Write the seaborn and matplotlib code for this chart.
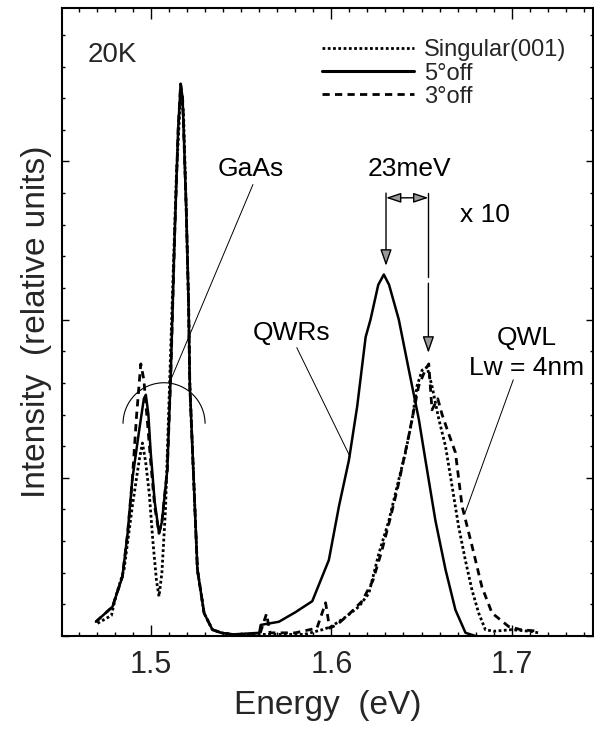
import matplotlib
matplotlib.use('Agg')
import matplotlib.pyplot as plt
import seaborn as sns
from matplotlib.patches import Arc
from matplotlib.ticker import MultipleLocator, FixedLocator, FixedFormatter, NullFormatter
from matplotlib.lines import Line2D

# ---------------- data ----------------
# 5 deg off  (solid)
e_5off = [1.4694, 1.4786, 1.4841, 1.4870, 1.4896, 1.4934, 1.4960, 1.4971, 1.4985, 1.4998,
          1.5020, 1.5044, 1.5060, 1.5090, 1.5110, 1.5130, 1.5150, 1.5164, 1.5175, 1.5195,
          1.5208, 1.5215, 1.5238, 1.5257, 1.5294, 1.5340, 1.5390, 1.5450, 1.5600, 1.5608,
          1.5709, 1.5800, 1.5894, 1.5986, 1.6042, 1.6097, 1.6143, 1.6190, 1.6217, 1.6260,
          1.6291, 1.6320, 1.6374, 1.6430, 1.6485, 1.6522, 1.6577, 1.6633, 1.6688, 1.6744,
          1.6800]
i_5off = [0.09, 0.185, 0.375, 0.65, 0.99, 1.30, 1.50, 1.525, 1.40, 1.16,
          0.85, 0.65, 0.72, 1.05, 1.68, 2.50, 3.20, 3.49, 3.40, 2.70,
          2.10, 1.58, 0.945, 0.42, 0.145, 0.04, 0.02, 0.01, 0.02, 0.07,
          0.09, 0.15, 0.22, 0.48, 0.82, 1.11, 1.45, 1.89, 2.00, 2.22,
          2.285, 2.22, 2.00, 1.68, 1.37, 1.11, 0.73, 0.42, 0.165, 0.02,
          0.0]

# Singular (001)  (dotted)
e_sing = [1.4703, 1.4780, 1.4804, 1.4850, 1.4896, 1.4934, 1.4952, 1.4970, 1.4990, 1.5010,
          1.5030, 1.5044, 1.5060, 1.5080, 1.5100, 1.5118, 1.5140, 1.5165, 1.5180, 1.5195,
          1.5208, 1.5215, 1.5238, 1.5257, 1.5294, 1.5340, 1.5390, 1.5450, 1.5850, 1.5950,
          1.6000, 1.6079, 1.6152, 1.6208, 1.6263, 1.6319, 1.6374, 1.6411, 1.6448, 1.6475,
          1.6503, 1.6531, 1.6558, 1.6596, 1.6633, 1.6669, 1.6706, 1.6743, 1.6780, 1.6817,
          1.6854, 1.6900, 1.7000, 1.7100, 1.7150]
i_sing = [0.08, 0.13, 0.25, 0.42, 0.82, 1.11, 1.22, 1.10, 0.90, 0.60,
          0.35, 0.25, 0.40, 0.80, 1.50, 2.13, 2.90, 3.45, 3.30, 2.70,
          2.10, 1.58, 0.945, 0.42, 0.145, 0.04, 0.02, 0.01, 0.01, 0.04,
          0.06, 0.12, 0.185, 0.27, 0.52, 0.73, 0.99, 1.16, 1.37, 1.58,
          1.68, 1.70, 1.58, 1.37, 1.20, 0.95, 0.69, 0.48, 0.29, 0.145,
          0.04, 0.03, 0.04, 0.03, 0.02]

# 3 deg off  (dashed)
e_3off = [1.4694, 1.4786, 1.4841, 1.4870, 1.4896, 1.4920, 1.4943, 1.4960, 1.4980, 1.4998,
          1.5020, 1.5044, 1.5060, 1.5090, 1.5110, 1.5130, 1.5150, 1.5164, 1.5175, 1.5195,
          1.5208, 1.5215, 1.5238, 1.5257, 1.5294, 1.5340, 1.5390, 1.5450, 1.5600, 1.5640,
          1.5660, 1.5800, 1.5920, 1.5968, 1.5990, 1.6030, 1.6100, 1.6170, 1.6230, 1.6280,
          1.6330, 1.6370, 1.6430, 1.6484, 1.6520, 1.6540, 1.6558, 1.6590, 1.6614, 1.6650,
          1.6688, 1.6725, 1.6780, 1.6835, 1.6891, 1.6983, 1.7050, 1.7150]
i_3off = [0.09, 0.185, 0.375, 0.65, 0.99, 1.40, 1.72, 1.62, 1.35, 1.10,
          0.82, 0.65, 0.72, 1.05, 1.68, 2.50, 3.20, 3.49, 3.40, 2.70,
          2.10, 1.58, 0.945, 0.42, 0.145, 0.04, 0.02, 0.01, 0.0, 0.14,
          0.02, 0.02, 0.05, 0.21, 0.05, 0.07, 0.14, 0.22, 0.35, 0.54,
          0.76, 0.95, 1.27, 1.58, 1.68, 1.72, 1.43, 1.50, 1.40, 1.28,
          1.16, 0.82, 0.57, 0.31, 0.145, 0.06, 0.04, 0.03]

labels = ['Singular(001)', '5°off', '3°off']
x_ticks = [1.5, 1.6, 1.7]
x_ticklabels = ['1.5', '1.6', '1.7']

# ---------------- figure ----------------
sns.set_style('ticks')
plt.rcParams['font.family'] = ['Liberation Sans', 'DejaVu Sans']

fig = plt.figure(figsize=(5.94, 7.35), dpi=100)
ax = fig.add_axes([62/594, 1-636/735, (593-62)/594, (636-8)/735])

ls_sing = (0, (1.0, 0.9))
ls_3off = (0, (2.6, 1.9))

sns.lineplot(x=e_5off, y=i_5off, ax=ax, color='k', lw=1.8, sort=False, estimator=None, legend=False)
sns.lineplot(x=e_sing, y=i_sing, ax=ax, color='k', lw=2.0, linestyle=ls_sing, sort=False, estimator=None, legend=False)
sns.lineplot(x=e_3off, y=i_3off, ax=ax, color='k', lw=2.0, linestyle=ls_3off, sort=False, estimator=None, legend=False)

ax.set_xlim(1.4506, 1.7451)
ax.set_ylim(0, 3.97)

ax.xaxis.set_major_locator(FixedLocator(x_ticks))
ax.xaxis.set_major_formatter(FixedFormatter(x_ticklabels))
ax.xaxis.set_minor_locator(MultipleLocator(0.01))
ax.yaxis.set_major_locator(MultipleLocator(1.0))
ax.yaxis.set_minor_locator(MultipleLocator(0.2))
ax.yaxis.set_major_formatter(NullFormatter())

ax.tick_params(which='both', direction='in', top=True, right=True, width=1.0, color='k')
ax.tick_params(axis='x', which='major', length=8, labelsize=22, pad=10)
ax.tick_params(axis='x', which='minor', length=3)
ax.tick_params(axis='y', which='major', length=5)
ax.tick_params(axis='y', which='minor', length=2.5)
for s in ax.spines.values():
    s.set_linewidth(1.5)
    s.set_color('k')

ax.set_xlabel('Energy  (eV)', fontsize=24, labelpad=7)
ax.set_ylabel('Intensity  (relative units)', fontsize=24, labelpad=4)

# legend
handles = [Line2D([], [], color='k', lw=2.0, linestyle=ls_sing),
           Line2D([], [], color='k', lw=2.2),
           Line2D([], [], color='k', lw=2.0, linestyle=ls_3off)]
ax.legend(handles, labels, loc='upper left', bbox_to_anchor=(0.49, 0.95), frameon=False,
          fontsize=17, handlelength=3.9, handletextpad=0.4, labelspacing=0.05,
          borderpad=0, borderaxespad=0)

# texts
tk = dict(fontsize=19, color='k')
ax.text(1.4650, 3.627, '20K', ha='left', va='baseline', fontsize=20)
ax.text(1.5371, 2.905, 'GaAs', ha='left', va='baseline', **tk)
ax.text(1.6203, 2.907, '23meV', ha='left', va='baseline', **tk)
ax.text(1.6713, 2.62, 'x 10', ha='left', va='baseline', **tk)
ax.text(1.5565, 1.873, 'QWRs', ha='left', va='baseline', **tk)
ax.text(1.7085, 1.842, 'QWL', ha='center', va='baseline', **tk)
ax.text(1.7085, 1.652, 'Lw = 4nm', ha='center', va='baseline', **tk)

# leader lines
ax.plot([1.5565, 1.5105], [2.854, 1.608], color='k', lw=0.7)
ax.plot([1.5808, 1.6103], [1.823, 1.135], color='k', lw=0.7)
ax.plot([1.7009, 1.6741], [1.62, 0.777], color='k', lw=0.7)
ax.add_patch(Arc((1.5072, 1.342), 0.0455, 0.518, theta1=0, theta2=180, color='k', lw=0.8))

# arrows
ap = dict(arrowstyle='-|>,head_length=1.0,head_width=0.35', fc='#9a9a9a', ec='k', lw=1.0,
          shrinkA=0, shrinkB=0)
ax.annotate('', xy=(1.6303, 2.34), xytext=(1.6303, 2.80), arrowprops=ap)
ax.plot([1.6538, 1.6538], [2.80, 2.27], color='k', lw=1.0)
ax.annotate('', xy=(1.6538, 1.79), xytext=(1.6538, 2.23), arrowprops=ap)
ap2 = dict(arrowstyle='<|-|>,head_length=0.9,head_width=0.3', fc='#9a9a9a', ec='k', lw=1.0,
           shrinkA=0, shrinkB=0)
ax.annotate('', xy=(1.6538, 2.77), xytext=(1.6303, 2.77), arrowprops=ap2)

fig.savefig('out.png', dpi=100)
